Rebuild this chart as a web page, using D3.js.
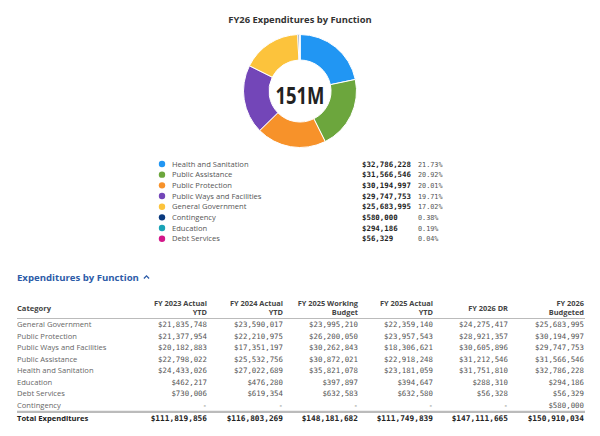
<!DOCTYPE html>
<html><head><meta charset="utf-8">
<script src="https://cdn.jsdelivr.net/npm/d3@7"></script>
<style>
body{margin:0;background:#fff;}
svg{display:block;}
text{font-family:"Open Sans",sans-serif;}
.mono{font-family:"DejaVu Sans Mono",monospace;}
</style></head>
<body>
<script>
// ---------- DATA ----------
const chartTitle = "FY26 Expenditures by Function";
const centerLabel = "151M";
const donutCategories = ["Health and Sanitation","Public Assistance","Public Protection","Public Ways and Facilities","General Government","Contingency","Education","Debt Services"];
const donutValues = [32786228,31566546,30194997,29747753,25683995,580000,294186,56329];
const donutPercents = ["21.73%","20.92%","20.01%","19.71%","17.02%","0.38%","0.19%","0.04%"];
const donutColors = ["#2196f3","#6ca63d","#f7922a","#7346b8","#fcc33c","#0a3a7e","#19a3b6","#d3178a"];

const tableTitle = "Expenditures by Function";
const tableCategories = ["General Government","Public Protection","Public Ways and Facilities","Public Assistance","Health and Sanitation","Education","Debt Services","Contingency"];
const columnHeaders = [["FY 2023 Actual","YTD"],["FY 2024 Actual","YTD"],["FY 2025 Working","Budget"],["FY 2025 Actual","YTD"],["FY 2026 DR"],["FY 2026","Budgeted"]];
const fy2023Actual   = [21835748,21377954,20182883,22798022,24433026,462217,730006,null];
const fy2024Actual   = [23590017,22210975,17351197,25532756,27022689,476280,619354,null];
const fy2025Working  = [23995210,26200050,30262843,30872021,35821078,397897,632583,null];
const fy2025Actual   = [22359140,23957543,18306621,22918248,23181059,394647,632580,null];
const fy2026DR       = [24275417,28921357,30605896,31212546,31751810,288310,56328,null];
const fy2026Budgeted = [25683995,30194997,29747753,31566546,32786228,294186,56329,580000];
const totalLabel = "Total Expenditures";
const columnTotals = [111819856,116803269,148181682,111749839,147111665,150910034];

// ---------- SETUP ----------
const W = 600, H = 436;
const svg = d3.select("body").append("svg").attr("width", W).attr("height", H);
const money = d3.format("$,.0f");

// Title
svg.append("text").attr("x", 300).attr("y", 23).attr("text-anchor","middle")
  .attr("font-size", 9.4).attr("font-weight", 700).attr("fill", "#333").text(chartTitle);

// Donut
const cx = 300, cy = 91, rOut = 56.5, rIn = 31;
const pie = d3.pie().sort(null).value(d => d)(donutValues);
const arc = d3.arc().innerRadius(rIn).outerRadius(rOut);
const g = svg.append("g").attr("transform", `translate(${cx},${cy})`);
g.selectAll("path").data(pie).join("path")
  .attr("d", arc).attr("fill", (d,i) => donutColors[i])
  .attr("stroke", "#fff").attr("stroke-width", 1);
g.append("text").attr("x", -24.5).attr("y", 12.5)
  .attr("font-size", 23).attr("font-weight", 700).attr("fill", "#222")
  .attr("textLength", 49).attr("lengthAdjust", "spacingAndGlyphs").text(centerLabel);

// Legend
const ly = d3.scalePoint().domain(donutCategories).range([164, 238.7]);
const lg = svg.append("g");
donutCategories.forEach((c, i) => {
  const y = ly(c);
  lg.append("circle").attr("cx", 162).attr("cy", y).attr("r", 3.2).attr("fill", donutColors[i]);
  lg.append("text").attr("x", 172).attr("y", y + 2.7).attr("font-size", 7.6).attr("fill", "#555").text(c);
  lg.append("text").attr("class","mono").attr("x", 362).attr("y", y + 2.7).attr("font-size", 7.4)
    .attr("font-weight", 700).attr("fill", "#222").text(money(donutValues[i]));
  lg.append("text").attr("class","mono").attr("x", 418).attr("y", y + 2.7).attr("font-size", 6.8)
    .attr("fill", "#555").text(donutPercents[i]);
});

// Section title
const st = svg.append("text").attr("x", 17).attr("y", 280.5).attr("font-size", 9.6)
  .attr("font-weight", 700).attr("fill", "#2d5ca8").text(tableTitle);
const stw = st.node().getComputedTextLength();
svg.append("path").attr("d", `M${17+stw+5},${278.5} l2.6,-2.6 l2.6,2.6`)
  .attr("fill","none").attr("stroke","#2d5ca8").attr("stroke-width",1.3);

// Table
const columns = [fy2023Actual, fy2024Actual, fy2025Working, fy2025Actual, fy2026DR, fy2026Budgeted];
const colRight = [207, 283, 358, 433, 508, 584];
const tg = svg.append("g");
tg.append("text").attr("x", 17).attr("y", 310.5).attr("font-size", 7.6).attr("font-weight", 700)
  .attr("fill", "#444").text("Category");
columnHeaders.forEach((h, j) => {
  const ys = h.length === 2 ? [305.5, 315] : [310.5];
  h.forEach((line, k) => {
    tg.append("text").attr("x", colRight[j]).attr("y", ys[k]).attr("text-anchor","end")
      .attr("font-size", 7.4).attr("font-weight", 700).attr("fill", "#444").text(line);
  });
});
tg.append("line").attr("x1", 17).attr("x2", 585).attr("y1", 318.5).attr("y2", 318.5)
  .attr("stroke", "#bbb").attr("stroke-width", 1);

const ry = d3.scalePoint().domain(tableCategories).range([324.3, 405]);
tableCategories.forEach((c, i) => {
  const y = ry(c) + 2.7;
  tg.append("text").attr("x", 17).attr("y", y).attr("font-size", 7.6).attr("fill", "#666").text(c);
  columns.forEach((col, j) => {
    const v = col[i];
    tg.append("text").attr("class","mono").attr("x", colRight[j]).attr("y", y)
      .attr("text-anchor","end").attr("font-size", 7.4).attr("fill", "#555")
      .text(v == null ? "-" : money(v));
  });
});
tg.append("line").attr("x1", 17).attr("x2", 585).attr("y1", 411.8).attr("y2", 411.8)
  .attr("stroke", "#bbb").attr("stroke-width", 2.2);
const ty = 421;
tg.append("text").attr("x", 17).attr("y", ty).attr("font-size", 7.6).attr("font-weight", 700)
  .attr("fill", "#222").text(totalLabel);
columnTotals.forEach((t, j) => {
  tg.append("text").attr("class","mono").attr("x", colRight[j]).attr("y", ty)
    .attr("text-anchor","end").attr("font-size", 7.8).attr("font-weight", 700).attr("fill", "#222")
    .text(money(t));
});
</script>
</body></html>
